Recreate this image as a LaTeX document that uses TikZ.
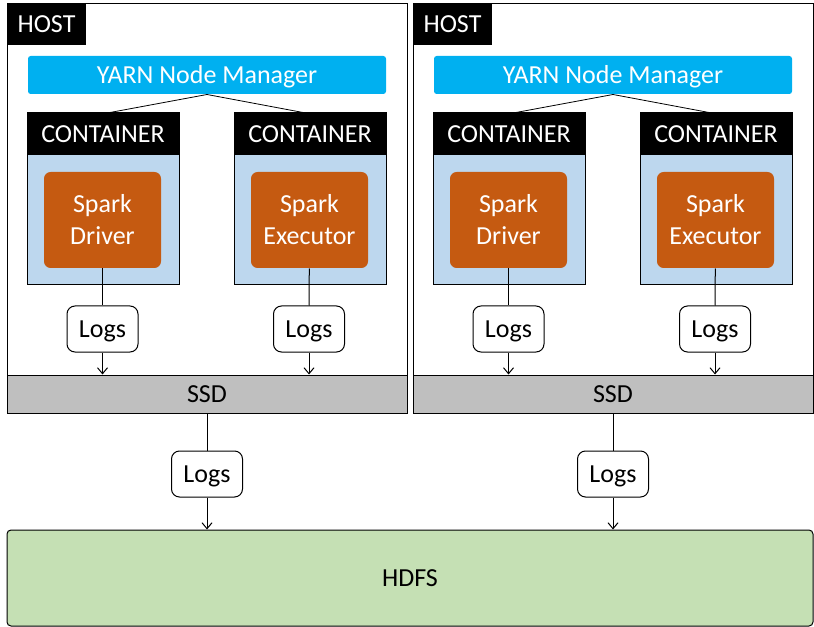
\documentclass[tikz,border=0pt]{standalone}
\usepackage{fontspec}
\setmainfont{Carlito}
\usetikzlibrary{arrows.meta}
\definecolor{yarnblue}{HTML}{00B0F0}
\definecolor{boxblue}{HTML}{BDD7EE}
\definecolor{sparkorange}{HTML}{C55A11}
\definecolor{ssdgray}{HTML}{BFBFBF}
\definecolor{hdfsgreen}{HTML}{C5E0B4}

\begin{document}
\begin{tikzpicture}[x=0.75pt,y=-0.75pt,line width=0.75pt,>={Straight Barb[length=4.5pt,width=7.5pt]},
	every node/.style={font=\fontsize{19.5}{24}\selectfont,inner sep=0pt},
	oneline/.style={text height=12.5pt,text depth=0pt},
	hostbox/.style={draw,fill=white,minimum width=300pt,minimum height=306.75pt},
	hostlabel/.style={oneline,fill=black,text=white,minimum width=59.25pt,minimum height=30.75pt},
	yarnbox/.style={oneline,fill=yarnblue,text=white,rounded corners=2pt,minimum width=268.5pt,minimum height=28.5pt},
	conthead/.style={oneline,draw,fill=black,text=white,minimum width=114pt,minimum height=31.5pt},
	contbody/.style={draw,fill=boxblue,minimum width=114pt,minimum height=97.5pt},
	sparkbox/.style={fill=sparkorange,text=white,rounded corners=5pt,align=center,minimum width=87.75pt,minimum height=72pt},
	logbox/.style={oneline,draw,fill=white,rounded corners=6pt,minimum width=53.25pt,minimum height=34.5pt},
	ssdbox/.style={oneline,draw,fill=ssdgray,minimum width=300pt,minimum height=28.5pt},
	hdfsbox/.style={oneline,draw,fill=hdfsgreen,rounded corners=3pt,minimum width=604.5pt,minimum height=72pt}]

	\useasboundingbox (0,0) rectangle (814,627);

	%% HDFS at the bottom
	\node[hdfsbox] (hdfs) at (410,578) {HDFS};

	%% one host after the other
	\foreach \h/\dx in {a/0,b/406}{
		\node[hostbox] (host\h) at ({207+\dx},208.5) {};
		\node[hostlabel] (hostlbl\h) at ({46.5+\dx},24.5) {HOST};
		\node[yarnbox] (yarn\h) at ({207+\dx},75) {YARN Node Manager};

		% containers
		\node[contbody] (bodyd\h) at ({103+\dx},220) {};
		\node[contbody] (bodye\h) at ({310+\dx},220) {};
		\node[conthead] (headd\h) at ({103+\dx},134) {CONTAINER};
		\node[conthead] (heade\h) at ({310+\dx},134) {CONTAINER};
		\node[sparkbox] (drv\h) at ({102.5+\dx},220) {Spark\\Driver};
		\node[sparkbox] (exe\h) at ({309.5+\dx},220) {Spark\\Executor};

		\draw[line width=0.6pt] (yarn\h.south) -- ([xshift=5.25pt]headd\h.north);
		\draw[line width=0.6pt] (yarn\h.south) -- ([xshift=-5.25pt]heade\h.north);

		% logs into the SSD
		\node[ssdbox] (ssd\h) at ({207+\dx},394) {SSD};
		\node[logbox] (logd\h) at ({102.5+\dx},329) {Logs};
		\node[logbox] (loge\h) at ({309+\dx},329) {Logs};
		\draw (drv\h) -- (logd\h);
		\draw (exe\h) -- (loge\h);
		\draw[->] (logd\h) -- (logd\h |- ssd\h.north);
		\draw[->] (loge\h) -- (loge\h |- ssd\h.north);

		% logs from the SSD to HDFS
		\node[logbox] (logs\h) at ({207+\dx},474) {Logs};
		\draw (ssd\h) -- (logs\h);
		\draw[->] (logs\h) -- (logs\h |- hdfs.north);
	}
\end{tikzpicture}
\end{document}
